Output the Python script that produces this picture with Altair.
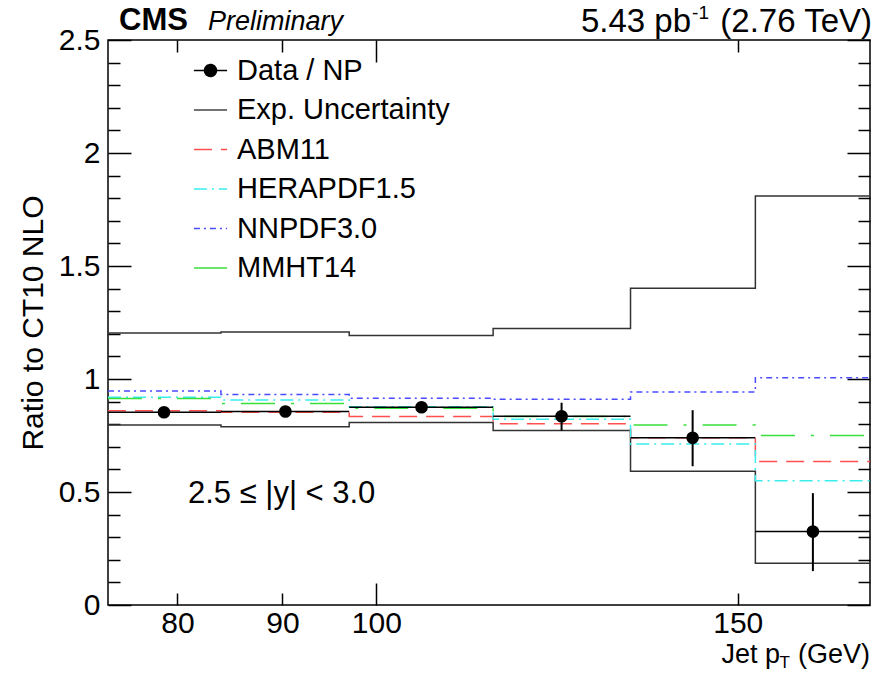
import altair as alt
import pandas as pd

# ---------------- data ----------------
bin_lo = [74, 84, 97, 114, 133, 153]
bin_hi = [84, 97, 114, 133, 153, 174]
pt_center = [78.8, 90.3, 105.2, 123.1, 142.6, 163.2]

data_ratio = [0.853, 0.856, 0.875, 0.835, 0.740, 0.325]
data_err_hi = [0.868, 0.871, 0.890, 0.895, 0.862, 0.495]
data_err_lo = [0.838, 0.841, 0.860, 0.772, 0.614, 0.150]

exp_up = [1.203, 1.208, 1.192, 1.224, 1.402, 1.810]
exp_dn = [0.796, 0.789, 0.808, 0.772, 0.592, 0.185]

abm11 = [0.860, 0.853, 0.834, 0.802, 0.740, 0.635]
herapdf = [0.919, 0.907, 0.877, 0.822, 0.712, 0.550]
nnpdf = [0.947, 0.931, 0.915, 0.910, 0.942, 1.005]
mmht14 = [0.914, 0.892, 0.871, 0.834, 0.797, 0.750]

series_names = ["Data / NP", "Exp. Uncertainty", "ABM11", "HERAPDF1.5", "NNPDF3.0", "MMHT14"]
series_colors = ["#000000", "#444444", "#ff4f4f", "#3aeeee", "#4a4aff", "#3ae03a"]
series_dash = [[1, 0], [1, 0], [18, 9], [13, 5, 2, 5], [6, 4, 2, 4], [34, 16, 3, 16]]

x_tick_values = [80, 90, 100, 150]
y_label_values = [0, 0.5, 1, 1.5, 2, 2.5]
y_tick_values = [round(0.1 * i, 1) for i in range(26)]

W, H = 762, 565
FONT = "Liberation Sans"


def step_df(vals):
    return pd.DataFrame({"pt": bin_lo + [bin_hi[-1]], "ratio": vals + [vals[-1]]})


xsc = alt.Scale(type="log", domain=[74, 174], nice=False)
ysc = alt.Scale(domain=[0, 2.5], nice=False, zero=False)

x_tick_size = {"condition": {"test": "datum.value == 100", "value": 22}, "value": 12}
y_tick_size = {"condition": {"test": "abs(datum.value*2 - round(datum.value*2)) < 0.001", "value": 23}, "value": 12}

ax_x_main = alt.Axis(values=x_tick_values, ticks=False, domain=False, grid=False, title=None,
                     labelFontSize=30, labelPadding=3, labelColor="black", labelFont=FONT,
                     labelExpr="'' + datum.value", labelFlush=False)
ax_y_main = alt.Axis(values=y_label_values, ticks=False, domain=False, grid=False,
                     title="Ratio to CT10 NLO", titleFontSize=30, titleFont=FONT, titleFontWeight="normal",
                     titleColor="black", titlePadding=10,
                     labelFontSize=30, labelPadding=8, labelColor="black", labelFont=FONT,
                     labelExpr="'' + datum.value", labelFlush=False)
# inward ticks: bottom edge (top-oriented axis moved down) and left edge (right-oriented axis moved left)
ax_x_in_bottom = alt.Axis(orient="top", offset=-H, values=x_tick_values, labels=False, domain=False,
                          grid=False, title=None, tickSize=x_tick_size, tickColor="black", tickWidth=1.5)
ax_x_in_top = alt.Axis(orient="bottom", offset=-H, values=x_tick_values, labels=False, domain=False,
                       grid=False, title=None, tickSize=x_tick_size, tickColor="black", tickWidth=1.5)
ax_y_in_left = alt.Axis(orient="right", offset=-W, values=y_tick_values, labels=False, domain=False,
                        grid=False, title=None, tickSize=y_tick_size, tickColor="black", tickWidth=1.5)
ax_y_in_right = alt.Axis(orient="left", offset=-W, values=y_tick_values, labels=False, domain=False,
                         grid=False, title=None, tickSize=y_tick_size, tickColor="black", tickWidth=1.5)

# ---- experimental uncertainty (step lines) ----
exp_up_layer = alt.Chart(step_df(exp_up)).mark_line(
    interpolate="step-after", color="#333333", strokeWidth=1.5
).encode(x=alt.X("pt:Q", scale=xsc, axis=ax_x_main), y=alt.Y("ratio:Q", scale=ysc, axis=ax_y_main))

exp_dn_layer = alt.Chart(step_df(exp_dn)).mark_line(
    interpolate="step-after", color="#333333", strokeWidth=1.5
).encode(x=alt.X("pt:Q", scale=xsc, axis=ax_x_in_bottom), y=alt.Y("ratio:Q", scale=ysc, axis=ax_y_in_left))

# ---- theory ratios ----
theory = [("ABM11", abm11), ("HERAPDF1.5", herapdf), ("NNPDF3.0", nnpdf), ("MMHT14", mmht14)]
theory_layers = []
for i, (name, vals) in enumerate(theory):
    k = series_names.index(name)
    xa = ax_x_in_top if i == 0 else None
    ya = ax_y_in_right if i == 0 else None
    theory_layers.append(
        alt.Chart(step_df(vals)).mark_line(
            interpolate="step-after", color=series_colors[k], strokeDash=series_dash[k], strokeWidth=1.5
        ).encode(x=alt.X("pt:Q", scale=xsc, axis=xa), y=alt.Y("ratio:Q", scale=ysc, axis=ya))
    )

# ---- data points ----
pts = pd.DataFrame({"pt": pt_center, "lo": bin_lo, "hi": bin_hi, "r": data_ratio,
                    "elo": data_err_lo, "ehi": data_err_hi})
hbar = alt.Chart(pts).mark_rule(color="black", strokeWidth=1.5).encode(
    x=alt.X("lo:Q", scale=xsc, axis=None), x2="hi:Q", y=alt.Y("r:Q", scale=ysc, axis=None))
vbar = alt.Chart(pts).mark_rule(color="black", strokeWidth=2).encode(
    x=alt.X("pt:Q", scale=xsc, axis=None), y=alt.Y("elo:Q", scale=ysc, axis=None), y2="ehi:Q")
dots = alt.Chart(pts).mark_point(filled=True, color="black", size=160, opacity=1).encode(
    x=alt.X("pt:Q", scale=xsc, axis=None), y=alt.Y("r:Q", scale=ysc, axis=None))

# ---- legend ----
dot_path = ("M-1,0H1"
            "M-0.36,0A0.36,0.36,0,1,1,0.36,0A0.36,0.36,0,1,1,-0.36,0"
            "M-0.28,0A0.28,0.28,0,1,1,0.28,0A0.28,0.28,0,1,1,-0.28,0"
            "M-0.20,0A0.20,0.20,0,1,1,0.20,0A0.20,0.20,0,1,1,-0.20,0"
            "M-0.12,0A0.12,0.12,0,1,1,0.12,0A0.12,0.12,0,1,1,-0.12,0"
            "M-0.05,0A0.05,0.05,0,1,1,0.05,0A0.05,0.05,0,1,1,-0.05,0")
line_path = "M-1,0H1"
series_shapes = [dot_path] + [line_path] * 5

leg = alt.Legend(title=None, orient="none", legendX=85, legendY=13, labelFontSize=29, labelFont=FONT,
                 labelColor="black", symbolSize=1100, symbolStrokeWidth=1.5, rowPadding=6.5,
                 labelOffset=9, padding=0, symbolOpacity=1, labelLimit=400)
legend_layer = alt.Chart(pd.DataFrame({"entry": series_names})).transform_filter("false").mark_point(
    filled=False).encode(
    color=alt.Color("entry:N", scale=alt.Scale(domain=series_names, range=series_colors), legend=leg),
    strokeDash=alt.StrokeDash("entry:N", scale=alt.Scale(domain=series_names, range=series_dash), legend=leg),
    shape=alt.Shape("entry:N", scale=alt.Scale(domain=series_names, range=series_shapes), legend=leg),
)


# ---- annotations ----
def label(text, x, y, size, align="left", baseline="alphabetic", weight="normal", style="normal"):
    return alt.Chart(pd.DataFrame({"t": [text]})).mark_text(
        font=FONT, fontSize=size, align=align, baseline=baseline, fontWeight=weight,
        fontStyle=style, color="black"
    ).encode(x=alt.value(x), y=alt.value(y), text="t:N")


texts = [
    label("CMS", 11, -10, 31, weight="bold"),
    label("Preliminary", 100, -10, 27, style="italic"),
    label("(2.76 TeV)", 764, -8, 33, align="right"),
    label("-1", 601, -21, 19, align="right"),
    label("5.43 pb", 583, -8, 33, align="right"),
    label("2.5 \u2264 |y| < 3.0", 80, 463, 31),
    label("(GeV)", 762, 623, 27, align="right"),
    label("T", 682, 628, 17, align="right"),
    label("Jet p", 672, 623, 27, align="right"),
]

chart = alt.layer(
    exp_up_layer, exp_dn_layer, *theory_layers, hbar, vbar, dots, legend_layer, *texts
).resolve_axis(x="independent", y="independent").properties(
    width=W, height=H,
    padding={"left": 108, "top": 40, "right": 19, "bottom": 69},
    autosize=alt.AutoSizeParams(type="none"),
).configure(font=FONT).configure_view(stroke="black", strokeWidth=1.5)

chart.save("out.html", embed_options={"renderer": "svg", "actions": False})
